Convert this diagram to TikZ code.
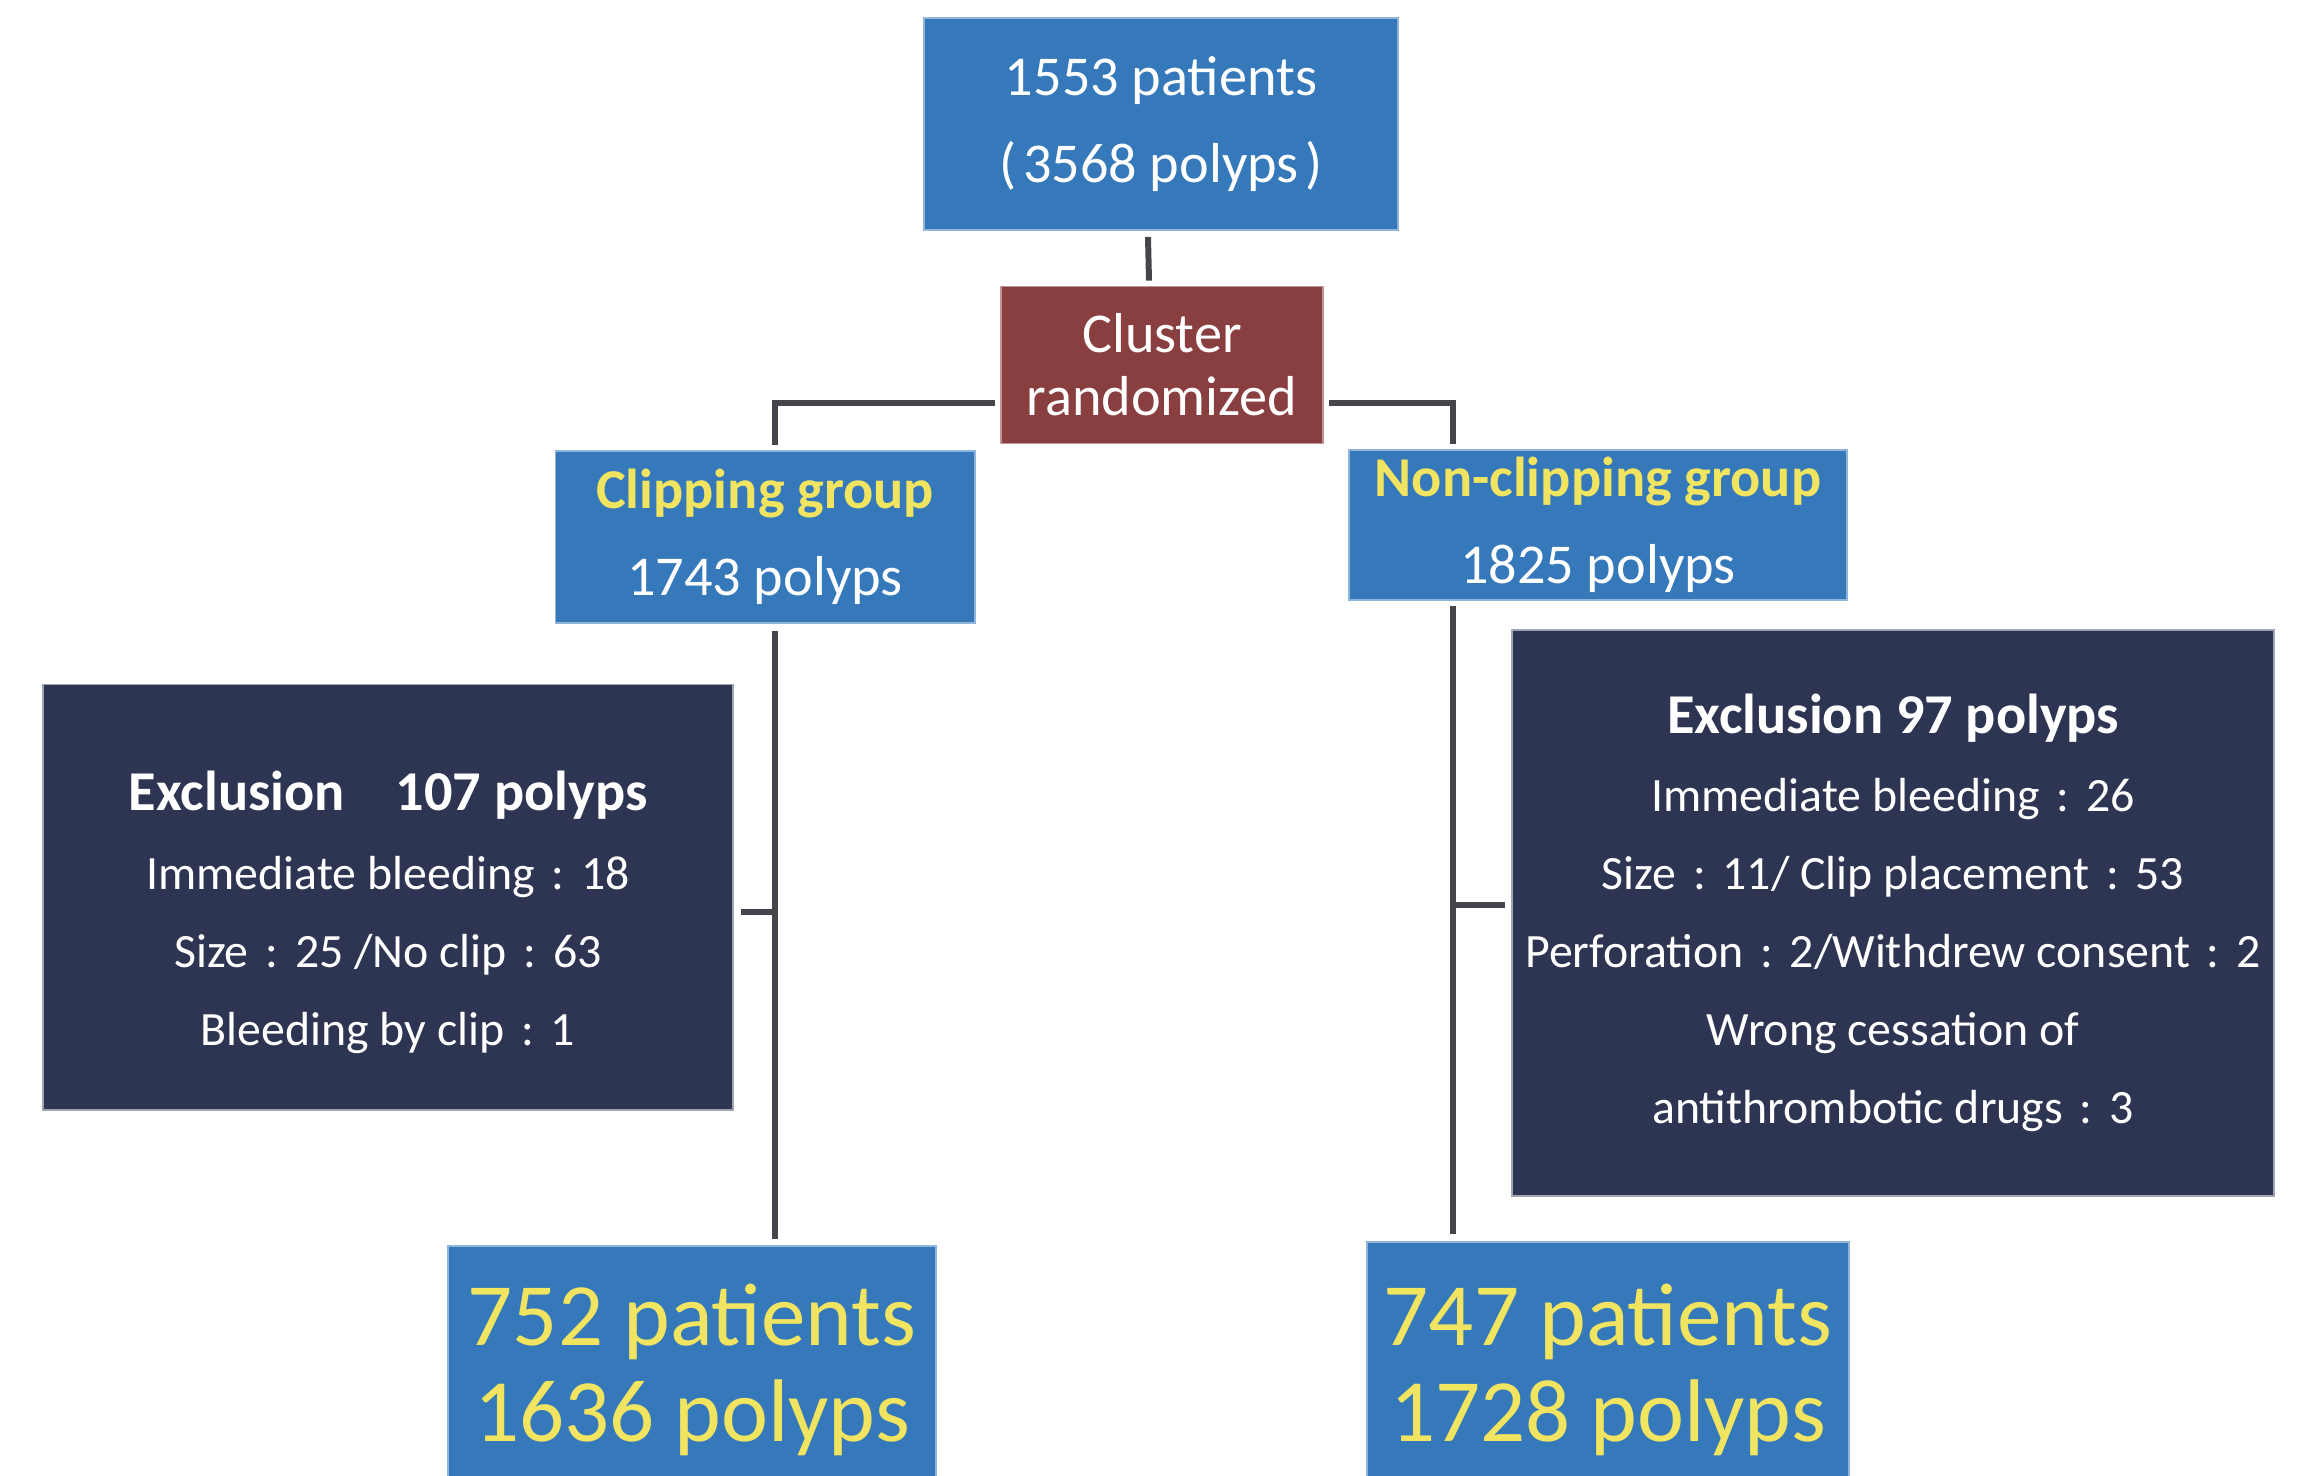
\documentclass[tikz,border=0pt]{standalone}
\usepackage{fontspec}
\setmainfont{Carlito}

\definecolor{boxblue}{RGB}{54,121,187}
\definecolor{boxnavy}{RGB}{46,53,82}
\definecolor{randred}{RGB}{137,62,64}
\definecolor{grpyellow}{RGB}{240,228,96}
\definecolor{linegrey}{RGB}{68,70,76}

% full-width colon of the source
\newcommand{\fwc}{\hspace{0.35em}:\hspace{0.35em}}
% bold heading of the exclusion boxes
\newcommand{\exclhead}[1]{{\fontsize{16}{22}\selectfont\bfseries #1}}

\begin{document}
\begin{tikzpicture}[x=0.01cm, y=-0.01cm,
  box/.style={inner sep=2pt, align=center, text=white, line width=0.5pt},
  bluebox/.style={box, fill=boxblue, draw=boxblue!55},
  redbox/.style={box, fill=randred, draw=randred!55},
  navybox/.style={box, fill=boxnavy, draw=boxnavy!45,
    font=\fontsize{13.6}{22.2}\selectfont},
  grpbox/.style={bluebox, font=\fontsize{16}{24.7}\selectfont},
  resbox/.style={bluebox, text=grpyellow, font=\fontsize{25.3}{27.3}\selectfont},
  link/.style={draw=linegrey, line width=1.7pt}]

\clip (0,0) rectangle (2299,1475);

% Enrolment and randomization
\node[bluebox, minimum width=4.73cm, minimum height=2.12cm,
  font=\fontsize{16}{24.5}\selectfont] (top) at (1161,124)
  {1553 patients\\(\kern0.12em3568 polyps\kern0.12em)};
\node[redbox, minimum width=3.22cm, minimum height=1.57cm,
  font=\fontsize{16}{18}\selectfont] (rand) at (1162,365)
  {Cluster\\randomized};

% Groups
\node[grpbox, minimum width=4.19cm, minimum height=1.72cm] (clip) at (765,537)
  {{\bfseries\color{grpyellow}Clipping group}\\1743 polyps};
\node[grpbox, minimum width=4.97cm, minimum height=1.49cm] (nonclip) at (1598,525)
  {{\bfseries\color{grpyellow}Non-clipping group}\\1825 polyps};

% Exclusions
\node[navybox, minimum width=6.89cm, minimum height=4.25cm] (exclA) at (388,897)
  {\rule{0pt}{20pt}\exclhead{Exclusion\hspace{0.9em}107 polyps}\\
   Immediate bleeding\fwc 18\\
   Size\fwc 25 /No clip\fwc 63\\
   Bleeding by clip\fwc 1};
\node[navybox, minimum width=7.61cm, minimum height=5.66cm] (exclB) at (1893,913)
  {\exclhead{Exclusion 97 polyps}\\
   Immediate bleeding\fwc 26\\
   Size\fwc 11/ Clip placement\fwc 53\\
   Perforation\fwc 2/Withdrew consent\fwc 2\\
   Wrong cessation of\\
   antithrombotic drugs\fwc 3};

% Analysed
\node[resbox, minimum width=4.87cm, minimum height=2.48cm] (resA) at (692,1370)
  {752 patients\\1636 polyps};
\node[resbox, minimum width=4.81cm, minimum height=2.56cm] (resB) at (1608,1370)
  {747 patients\\1728 polyps};

% Connectors
\draw[link] ([shift={(-13,6)}]top.south) -- ([shift={(-13,-5)}]rand.north);
\draw[link] ([shift={(-5,38)}]rand.west) -| ([shift={(10,-5)}]clip.north);
\draw[link] ([shift={(5,38)}]rand.east) -| ([shift={(-145,-5)}]nonclip.north);
\draw[link] ([shift={(10,7)}]clip.south) -- ([shift={(83,-6)}]resA.north);
\draw[link] ([shift={(-145,5)}]nonclip.south) -- ([shift={(-155,-7)}]resB.north);
\draw[link] ([shift={(7,15)}]exclA.east) -- ([shift={(83,15)}]exclA.east -| resA.north);
\draw[link] ([shift={(-6,-8)}]exclB.west) -- ([shift={(-145,-8)}]exclB.west -| nonclip.south);

\end{tikzpicture}
\end{document}
